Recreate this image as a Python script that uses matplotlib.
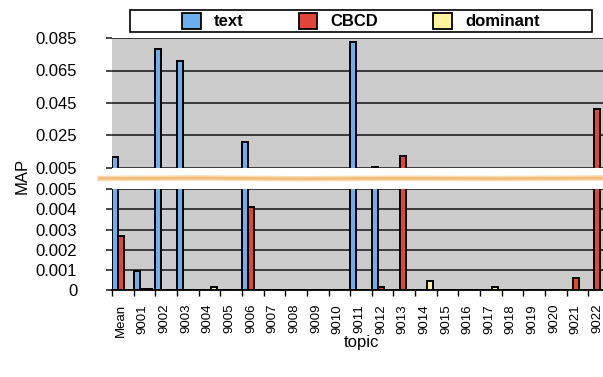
import matplotlib
matplotlib.use("Agg")
import matplotlib.pyplot as plt
from matplotlib.patches import Patch, Rectangle
from matplotlib.lines import Line2D
import numpy as np

plt.rcParams['font.family'] = ['Liberation Sans', 'DejaVu Sans']

# data
topics = ['Mean'] + [str(9001 + k) for k in range(22)]
text = [0.0115, 0.00095, 0.0782, 0.0710, 0, 0, 0.0212, 0, 0, 0, 0, 0.0825,
        0.0054, 0, 0, 0, 0, 0, 0, 0, 0, 0, 0]
cbcd = [0.0027, 0.00003, 0, 0, 0.00002, 0, 0.00414, 0, 0, 0, 0, 0,
        0.00013, 0.0126, 0, 0, 0, 0, 0, 0, 0, 0.00058, 0.0415]
dominant = [0, 0.00003, 0, 0, 0.00013, 0, 0, 0, 0, 0, 0, 0,
            0.00002, 0, 0.00045, 0, 0, 0.00013, 0, 0, 0, 0, 0]

series = [('text', text, '#6AB0F0'),
          ('CBCD', cbcd, '#E2433B'),
          ('dominant', dominant, '#FFF59E')]

W, H = 603, 377
fig = plt.figure(figsize=(W / 100, H / 100), dpi=100)

bg = '#CBCBCB'
grid_c = '#3A3A3A'
w = 0.28
x = np.arange(len(topics))

left = 112 / W
width = (610 - 112) / W
ax_top = fig.add_axes([left, (H - 168) / H, width, 130 / H])
ax_bot = fig.add_axes([left, (H - 290) / H, width, 100.7 / H])

for ax in (ax_top, ax_bot):
    ax.set_facecolor(bg)
    for k, (name, vals, col) in enumerate(series):
        ax.bar(x + (k - 1) * w, vals, width=w, color=col, edgecolor='black',
               linewidth=1.4, zorder=3)
    ax.set_xlim(-1.5 * w, len(topics) - 1.5 * w)
    for s in ax.spines.values():
        s.set_visible(False)
    ax.yaxis.grid(True, color=grid_c, linewidth=1.4, zorder=1)
    ax.set_axisbelow(True)
    ax.tick_params(axis='y', length=4, width=1.3, color=grid_c,
                   labelsize=12, pad=21)

ax_top.set_ylim(0.005, 0.085)
ax_top.set_yticks([0.005, 0.025, 0.045, 0.065, 0.085])
ax_top.set_yticklabels(['0.005', '0.025', '0.045', '0.065', '0.085'])
ax_top.set_xticks([])

ax_bot.set_ylim(0, 0.005)
ax_bot.set_yticks([0, 0.001, 0.002, 0.003, 0.004, 0.005])
ax_bot.set_yticklabels(['0', '0.001', '0.002', '0.003', '0.004', '0.005'])
ax_bot.spines['bottom'].set_visible(True)
ax_bot.spines['bottom'].set_linewidth(1.3)
ax_bot.set_xticks(x)
ax_bot.set_xticklabels(topics, rotation=90, fontsize=9.5)
ax_bot.tick_params(axis='x', which='major', length=0, pad=10)
ax_bot.set_xticks(np.arange(len(topics) + 1) - 1.5 * w, minor=True)
ax_bot.tick_params(axis='x', which='minor', length=4, width=1.0)

# axis titles
fig.text(361 / W, 1 - 343 / H, 'topic', ha='center', va='center', fontsize=12)
fig.text(22 / W, 1 - 176 / H, 'MAP', ha='center', va='center',
         rotation=90, fontsize=12)

# brush stroke marking the axis break
bx = np.array([100, 200, 300, 400, 500, 603]) / W
by = 1 - np.array([178.5, 178, 178.8, 178.2, 178.6, 178]) / H
fig.add_artist(Line2D(bx, by, color='#F0AE5A', linewidth=4, alpha=0.45))
fig.add_artist(Line2D(bx, by, color='#EFA94A', linewidth=1.8, alpha=0.6))

# legend
handles = [Patch(facecolor=c, edgecolor='black', linewidth=1.3, label=n)
           for n, _, c in series]
fig.legend(handles=handles, loc='center', ncol=3, frameon=False,
           bbox_to_anchor=(361 / W, 1 - 21 / H),
           prop={'weight': 'bold', 'size': 12},
           handlelength=1.1, handleheight=1.1, handletextpad=0.8,
           columnspacing=3.3)
fig.add_artist(Rectangle((130 / W, 1 - 32 / H), 462 / W, 22 / H,
                         transform=fig.transFigure, fill=False,
                         edgecolor='black', linewidth=1.2))

fig.savefig('out.png', dpi=100)
